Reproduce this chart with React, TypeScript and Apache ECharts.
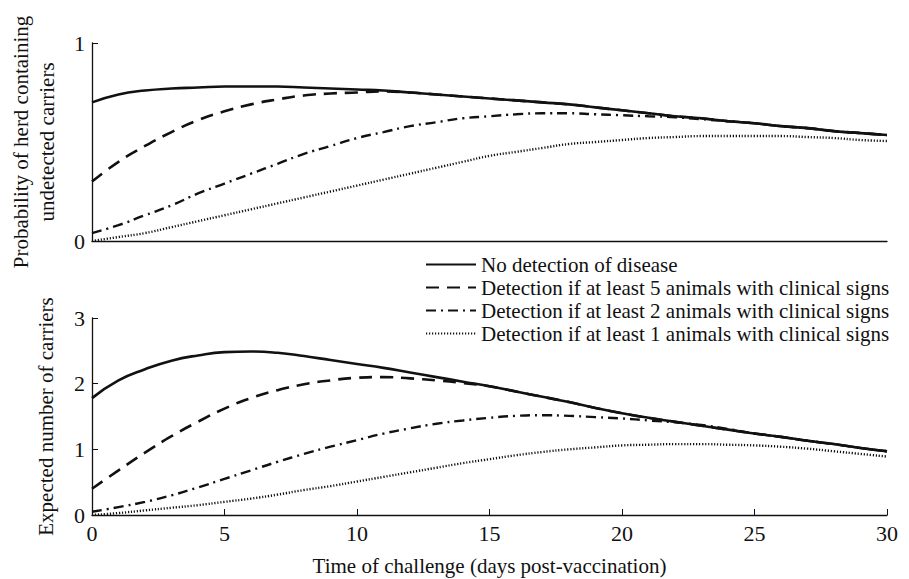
import React, { useEffect, useRef } from "react";
import * as echarts from "echarts";

const days = Array.from({ length: 31 }, (_, i) => i);

const seriesNames = [
  "No detection of disease",
  "Detection if at least 5 animals with clinical signs",
  "Detection if at least 2 animals with clinical signs",
  "Detection if at least 1 animals with clinical signs",
];

// Top panel: probability of herd containing undetected carriers
const probNoDetection = [0.70, 0.74, 0.76, 0.77, 0.775, 0.78, 0.78, 0.78, 0.775, 0.77, 0.765, 0.76, 0.75, 0.74, 0.73, 0.72, 0.71, 0.70, 0.69, 0.675, 0.66, 0.645, 0.63, 0.62, 0.605, 0.595, 0.58, 0.57, 0.555, 0.545, 0.535];
const probDetect5 = [0.30, 0.40, 0.48, 0.55, 0.61, 0.655, 0.69, 0.715, 0.735, 0.745, 0.75, 0.755, 0.75, 0.74, 0.73, 0.72, 0.71, 0.70, 0.69, 0.675, 0.66, 0.645, 0.63, 0.62, 0.605, 0.595, 0.58, 0.57, 0.555, 0.545, 0.535];
const probDetect2 = [0.04, 0.08, 0.13, 0.18, 0.24, 0.29, 0.34, 0.39, 0.44, 0.48, 0.52, 0.55, 0.58, 0.60, 0.62, 0.63, 0.64, 0.645, 0.645, 0.64, 0.635, 0.63, 0.625, 0.615, 0.605, 0.595, 0.58, 0.57, 0.555, 0.545, 0.535];
const probDetect1 = [0.0, 0.02, 0.04, 0.07, 0.10, 0.13, 0.16, 0.19, 0.22, 0.25, 0.28, 0.31, 0.34, 0.37, 0.40, 0.43, 0.45, 0.47, 0.49, 0.50, 0.51, 0.52, 0.525, 0.53, 0.53, 0.53, 0.53, 0.525, 0.52, 0.51, 0.505];

// Bottom panel: expected number of carriers
const carNoDetection = [1.78, 2.05, 2.22, 2.35, 2.43, 2.48, 2.49, 2.47, 2.42, 2.36, 2.30, 2.24, 2.17, 2.10, 2.03, 1.96, 1.88, 1.80, 1.72, 1.63, 1.55, 1.48, 1.42, 1.36, 1.30, 1.24, 1.19, 1.13, 1.08, 1.02, 0.97];
const carDetect5 = [0.40, 0.68, 0.95, 1.20, 1.42, 1.62, 1.78, 1.90, 1.99, 2.05, 2.09, 2.10, 2.08, 2.05, 2.01, 1.96, 1.88, 1.80, 1.72, 1.63, 1.55, 1.48, 1.42, 1.36, 1.30, 1.24, 1.19, 1.13, 1.08, 1.02, 0.97];
const carDetect2 = [0.05, 0.12, 0.20, 0.30, 0.42, 0.55, 0.68, 0.81, 0.93, 1.04, 1.14, 1.24, 1.32, 1.39, 1.44, 1.48, 1.51, 1.52, 1.51, 1.49, 1.47, 1.44, 1.41, 1.37, 1.31, 1.24, 1.19, 1.13, 1.08, 1.02, 0.97];
const carDetect1 = [0.0, 0.03, 0.07, 0.11, 0.15, 0.20, 0.25, 0.31, 0.38, 0.44, 0.51, 0.58, 0.65, 0.72, 0.79, 0.85, 0.91, 0.96, 1.00, 1.03, 1.06, 1.07, 1.08, 1.08, 1.07, 1.06, 1.04, 1.01, 0.97, 0.93, 0.89];

const FONT = "Liberation Serif";
const INK = "#111";

const lineStyles: any[] = [
  { type: "solid", width: 2.6 },
  { type: [13, 8], width: 2.6 },
  { type: [10, 5, 2, 5], width: 2.4 },
  { type: [1.2, 1.8], width: 2.4 },
];

export default function App() {
  const ref = useRef<HTMLDivElement>(null);
  useEffect(() => {
    if (!ref.current) return;
    const chart = echarts.init(ref.current, undefined, { renderer: "svg" });
    const topData = [probNoDetection, probDetect5, probDetect2, probDetect1];
    const botData = [carNoDetection, carDetect5, carDetect2, carDetect1];
    const mk = (arr: number[], idx: number, grid: number) => ({
      type: "line",
      name: seriesNames[idx],
      xAxisIndex: grid,
      yAxisIndex: grid,
      data: days.map((d, i) => [d, arr[i]]),
      smooth: true,
      symbol: "none",
      lineStyle: { color: INK, ...lineStyles[idx] },
      itemStyle: { color: INK },
      z: 10 - idx,
    });
    const axisText = { color: INK, fontFamily: FONT, fontSize: 22 };
    chart.setOption({
      animation: false,
      backgroundColor: "#fff",
      textStyle: { fontFamily: FONT },
      grid: [
        { left: 92, right: 22, top: 43, height: 198 },
        { left: 92, right: 22, top: 318, height: 197 },
      ],
      legend: {
        data: seriesNames,
        orient: "vertical",
        left: 420,
        top: 248,
        itemWidth: 50,
        itemHeight: 12,
        itemGap: 0,
        itemStyle: { opacity: 0 },
        textStyle: { color: INK, fontFamily: FONT, fontSize: 21, lineHeight: 23 },
        selectedMode: false,
      },
      xAxis: [
        {
          type: "value",
          gridIndex: 0,
          min: 0,
          max: 30,
          interval: 5,
          axisLine: { lineStyle: { color: INK, width: 1.3 } },
          axisTick: { show: false },
          axisLabel: { show: false },
          splitLine: { show: false },
        },
        {
          type: "value",
          gridIndex: 1,
          min: 0,
          max: 30,
          interval: 5,
          axisLine: { lineStyle: { color: INK, width: 1.3 } },
          axisTick: { inside: true, length: 6, lineStyle: { color: INK } },
          axisLabel: { ...axisText, margin: 7 },
          splitLine: { show: false },
          name: "Time of challenge (days post-vaccination)",
          nameLocation: "middle",
          nameGap: 40,
          nameTextStyle: { color: INK, fontFamily: FONT, fontSize: 21 },
        },
      ],
      yAxis: [
        {
          type: "value",
          gridIndex: 0,
          min: 0,
          max: 1,
          interval: 1,
          axisLine: { show: true, lineStyle: { color: INK, width: 1.3 } },
          axisTick: { show: true, inside: true, length: 6, lineStyle: { color: INK } },
          axisLabel: { ...axisText, margin: 7 },
          splitLine: { show: false },
          name: "Probability of herd containing\nundetected carriers",
          nameLocation: "middle",
          nameRotate: 90,
          nameGap: 32,
          nameTextStyle: { color: INK, fontFamily: FONT, fontSize: 21, lineHeight: 26 },
        },
        {
          type: "value",
          gridIndex: 1,
          min: 0,
          max: 3,
          interval: 1,
          axisLine: { show: true, lineStyle: { color: INK, width: 1.3 } },
          axisTick: { show: true, inside: true, length: 6, lineStyle: { color: INK } },
          axisLabel: { ...axisText, margin: 7 },
          splitLine: { show: false },
          name: "Expected number of carriers",
          nameLocation: "middle",
          nameRotate: 90,
          nameGap: 36,
          nameTextStyle: { color: INK, fontFamily: FONT, fontSize: 21 },
        },
      ],
      series: [
        ...topData.map((a, i) => mk(a, i, 0)),
        ...botData.map((a, i) => mk(a, i, 1)),
      ],
    });
    return () => chart.dispose();
  }, []);
  return <div ref={ref} style={{ width: 909, height: 579, position: "absolute", left: 0, top: 0 }} />;
}
